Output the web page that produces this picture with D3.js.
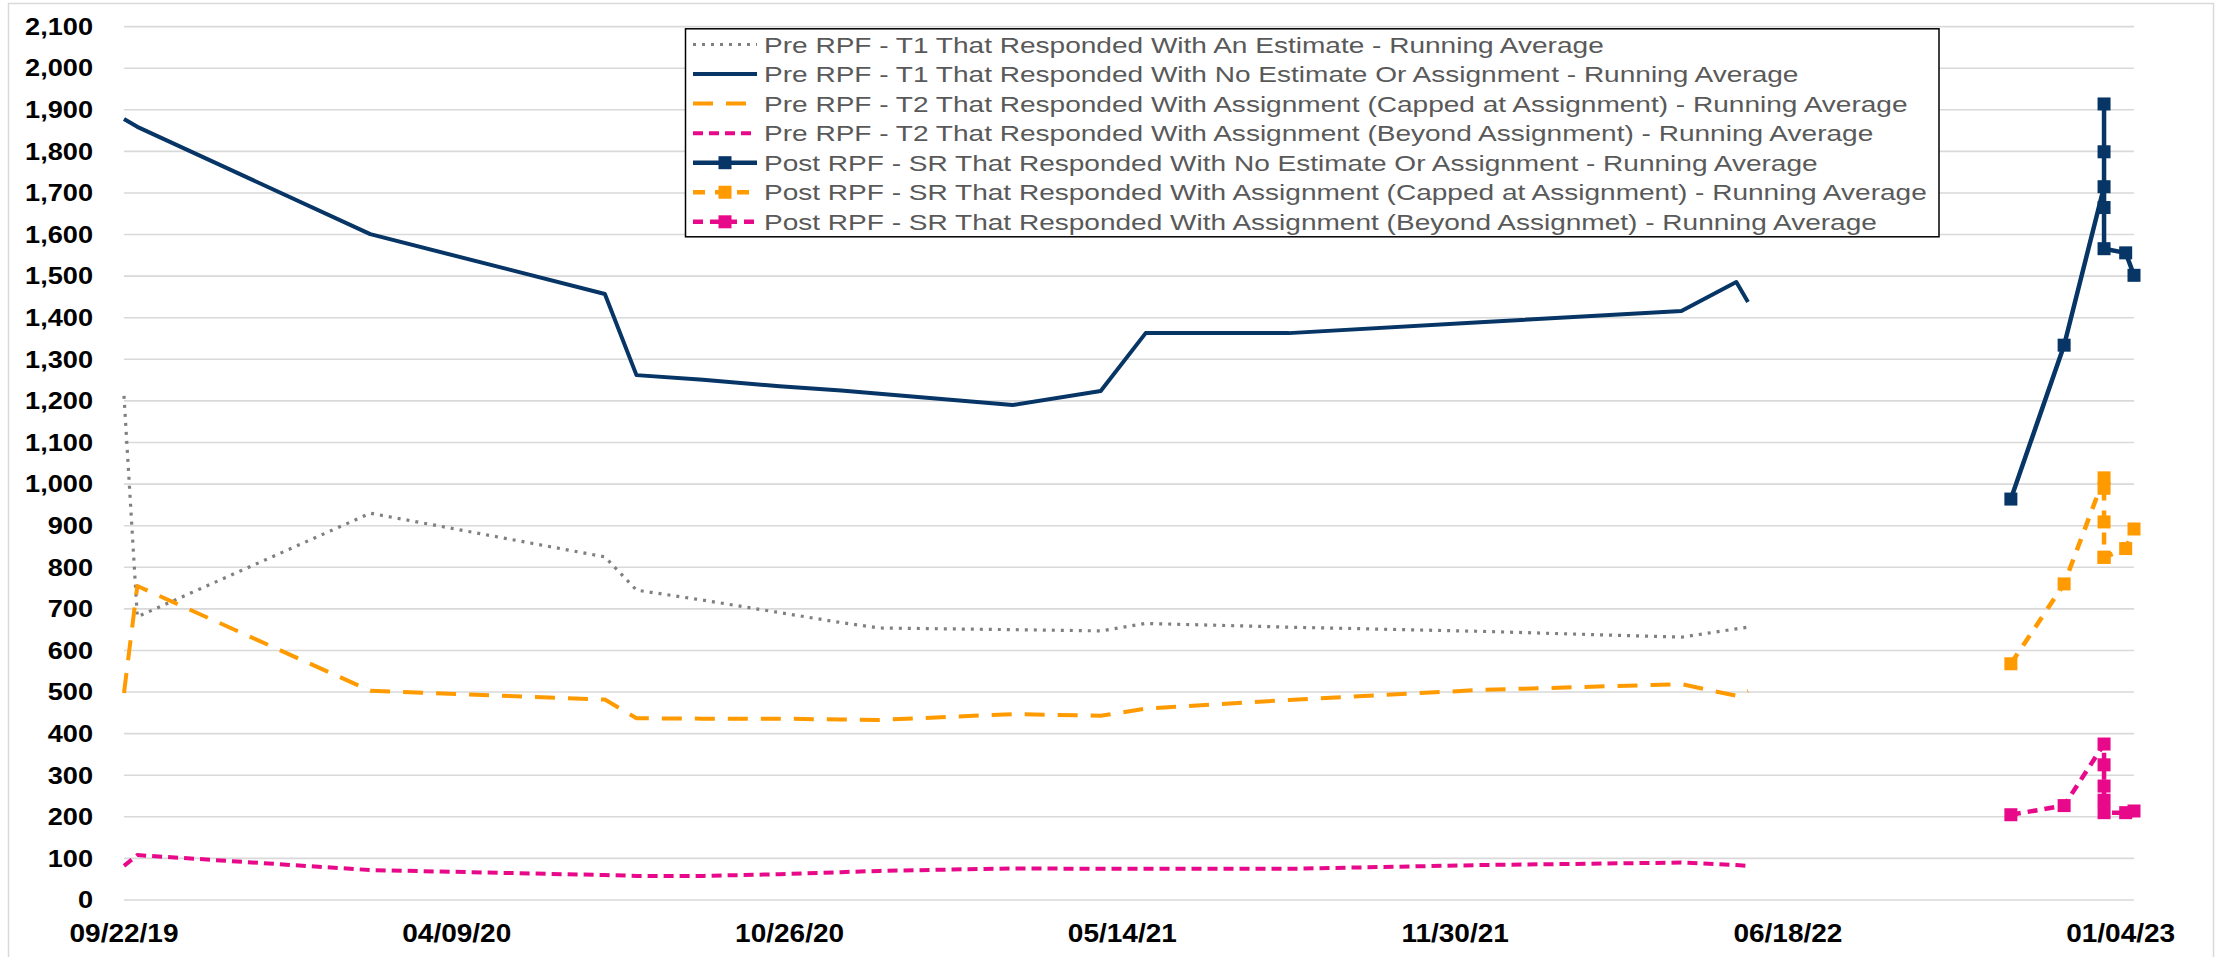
<!DOCTYPE html>
<html><head><meta charset="utf-8">
<script src="https://cdn.jsdelivr.net/npm/d3@7"></script>
<style>html,body{margin:0;padding:0;background:#fff;} svg{display:block;}</style>
</head><body>
<svg id="chart" width="2219" height="957"></svg>
<script>
// ---------- DATA ----------
const preDates = ["2019-09-22","2019-09-30","2020-02-17","2020-07-07","2020-07-26","2020-09-04","2020-10-20","2020-11-26","2020-12-19","2021-03-09","2021-05-01","2021-05-28","2021-08-22","2021-12-15","2022-04-15","2022-05-18","2022-05-25"];
const preT1Estimate   = [1212, 681, 930, 825, 745, 721, 691, 667, 654, 650, 647, 665, 656, 646, 632, 652, 656];
const preT1NoEstimate = [1878, 1859, 1601, 1457, 1262, 1251, 1235, 1225, 1217, 1190, 1224, 1363, 1363, 1389, 1416, 1486, 1438];
const preT2Capped     = [498, 755, 503, 482, 437, 436, 436, 434, 433, 447, 443, 460, 481, 505, 519, 491, 503];
const preT2Beyond     = [82, 108, 72, 60, 58, 58, 62, 67, 70, 76, 75, 75, 75, 84, 90, 84, 82];

const postDates = ["2022-10-30","2022-12-01","2022-12-25","2022-12-25","2022-12-25","2022-12-25","2022-12-25","2023-01-07","2023-01-12"];
const postSRNoEstimate = [964, 1334, 1715, 1914, 1799, 1665, 1566, 1556, 1502];
const postSRCapped     = [568, 760, 1015, 990, 909, 824, 824, 845, 892];
const postSRBeyond     = [205, 227, 375, 325, 274, 240, 210, 210, 214];

const yTicks = [0,100,200,300,400,500,600,700,800,900,1000,1100,1200,1300,1400,1500,1600,1700,1800,1900,2000,2100];
const xTickDates  = ["2019-09-22","2020-04-09","2020-10-26","2021-05-14","2021-11-30","2022-06-18","2023-01-04"];
const xTickLabels = ["09/22/19","04/09/20","10/26/20","05/14/21","11/30/21","06/18/22","01/04/23"];
const axisStart = "2019-09-22", axisEnd = "2023-01-12";

const legendLabels = [
  "Pre RPF - T1 That Responded With An Estimate - Running Average",
  "Pre RPF - T1 That Responded With No Estimate Or Assignment - Running Average",
  "Pre RPF - T2 That Responded With Assignment (Capped at Assignment) - Running Average",
  "Pre RPF - T2 That Responded With Assignment (Beyond Assignment) - Running Average",
  "Post RPF - SR That Responded With No Estimate Or Assignment - Running Average",
  "Post RPF - SR That Responded With Assignment (Capped at Assignment) - Running Average",
  "Post RPF - SR That Responded With Assignment (Beyond Assignmet) - Running Average"
];

// ---------- STYLES ----------
const NAVY = "#063566", ORANGE = "#FF9A00", MAGENTA = "#E8088A", GREY = "#808080";
const seriesDefs = [
  {dates: preDates,  values: preT1Estimate,   color: GREY,    width: 3.2, dash: "3,6",   marker: false},
  {dates: preDates,  values: preT1NoEstimate, color: NAVY,    width: 4,   dash: null,    marker: false},
  {dates: preDates,  values: preT2Capped,     color: ORANGE,  width: 4,   dash: "20,13", marker: false},
  {dates: preDates,  values: preT2Beyond,     color: MAGENTA, width: 4,   dash: "10,6",  marker: false},
  {dates: postDates, values: postSRNoEstimate,color: NAVY,    width: 4.5, dash: null,    marker: true},
  {dates: postDates, values: postSRCapped,    color: ORANGE,  width: 4.5, dash: "12,10", marker: true},
  {dates: postDates, values: postSRBeyond,    color: MAGENTA, width: 4.5, dash: "10,7",  marker: true}
];

// ---------- CHART ----------
const svg = d3.select("#chart");
const parse = d3.utcParse("%Y-%m-%d");
const FONT = "'Liberation Sans', Arial, Helvetica, sans-serif";

const x = d3.scaleUtc().domain([parse(axisStart), parse(axisEnd)]).range([124, 2134]);
const y = d3.scaleLinear().domain([0, 2100]).range([900, 26.6]);

svg.append("rect").attr("x",0).attr("y",0).attr("width",2219).attr("height",957).attr("fill","#fff");
svg.append("rect").attr("x",8.5).attr("y",3.5).attr("width",2205).attr("height",970)
   .attr("fill","none").attr("stroke","#d9d9d9").attr("stroke-width",1.5);

// gridlines
svg.append("g").selectAll("line").data(yTicks).join("line")
  .attr("x1", x.range()[0]).attr("x2", x.range()[1])
  .attr("y1", d => y(d)).attr("y2", d => y(d))
  .attr("stroke", "#d9d9d9").attr("stroke-width", 1.6);

// y labels
svg.append("g").selectAll("text").data(yTicks).join("text")
  .attr("transform", d => `translate(93,${y(d)+8.3}) scale(1.18,1)`)
  .attr("text-anchor","end")
  .attr("font-family", FONT).attr("font-weight","bold").attr("font-size", 23)
  .attr("fill","#000")
  .text(d => d3.format(",")(d));

// x labels
svg.append("g").selectAll("text").data(xTickDates).join("text")
  .attr("transform", d => `translate(${x(parse(d))},942) scale(1.12,1)`)
  .attr("text-anchor","middle")
  .attr("font-family", FONT).attr("font-weight","bold").attr("font-size", 25)
  .attr("fill","#000")
  .text((d,i) => xTickLabels[i]);

// lines
const line = d3.line().x(d => x(d.date)).y(d => y(d.v));
seriesDefs.forEach(s => {
  const pts = s.dates.map((d,i) => ({date: parse(d), v: s.values[i]}));
  svg.append("path").datum(pts)
    .attr("d", line)
    .attr("fill","none")
    .attr("stroke", s.color)
    .attr("stroke-width", s.width)
    .attr("stroke-linejoin","round")
    .attr("stroke-dasharray", s.dash);
  if (s.marker) {
    svg.append("g").selectAll("rect").data(pts).join("rect")
      .attr("x", d => x(d.date) - 6.5).attr("y", d => y(d.v) - 6.5)
      .attr("width", 13).attr("height", 13)
      .attr("fill", s.color);
  }
});

// legend
const lg = svg.append("g");
lg.append("rect").attr("x",685.5).attr("y",28.8).attr("width",1253.5).attr("height",208)
  .attr("fill","#fff").attr("stroke","#000").attr("stroke-width",1.5);
legendLabels.forEach((lab, i) => {
  const base = 52.5 + i*29.55;
  const cy = base - 8;
  const s = seriesDefs[i];
  lg.append("line").attr("x1",693).attr("x2",757).attr("y1",cy).attr("y2",cy)
    .attr("stroke", s.color).attr("stroke-width", s.width)
    .attr("stroke-dasharray", s.dash);
  if (s.marker) {
    lg.append("rect").attr("x",725-6.5).attr("y",cy-6.5).attr("width",13).attr("height",13).attr("fill",s.color);
  }
  lg.append("text")
    .attr("transform", `translate(764,${base}) scale(1.275,1)`)
    .attr("font-family", FONT).attr("font-size", 22).attr("fill","#595959")
    .text(lab);
});
</script>
</body></html>
